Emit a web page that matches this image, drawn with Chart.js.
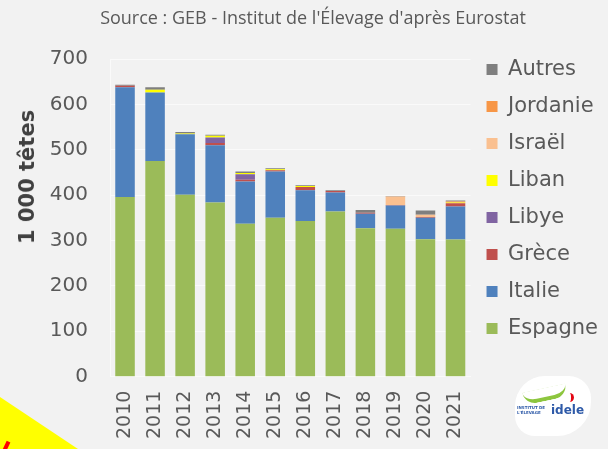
<!DOCTYPE html>
<html>
<head>
<meta charset="utf-8">
<script src="https://cdn.jsdelivr.net/npm/chart.js@4.4.0/dist/chart.umd.min.js"></script>
<style>
    html, body { margin: 0; padding: 0; background: #F2F2F2; }
    #wrap { position: relative; width: 608px; height: 449px; overflow: hidden; }
    #source {
        position: absolute; top: 5px; left: 0; width: 626px;
        text-align: center; font: 18px "Open Sans", sans-serif; color: #595959;
    }
    #ytitle {
        position: absolute; left: 27px; top: 177px;
        transform: translate(-50%, -50%) rotate(-90deg);
        white-space: nowrap;
        font: bold 21px "DejaVu Sans", sans-serif; color: #404040;
    }
    #sticker {
        position: absolute; left: 0; top: 397px; width: 78px; height: 52px;
        background: #FFFF00; clip-path: polygon(0 0, 100% 100%, 0 100%);
    }
    #sticker-mark {
        position: absolute; left: 4px; top: 441px; width: 4px; height: 12px;
        background: #FF0000; transform: rotate(25deg);
    }
    #logo {
        position: absolute; left: 515px; top: 376px; width: 76px; height: 60px;
        background: #FFFFFF; border-radius: 30px 22px 34px 20px;
    }
    #logo .swoosh {
        position: absolute; left: 8px; top: 12px; width: 44px; height: 9px;
        border-bottom: 4px solid #8DC63F; border-radius: 0 0 40px 40px;
        transform: rotate(-12deg);
    }
    #logo .small {
        position: absolute; left: 2px; top: 29px; width: 34px;
        font: bold 4px "DejaVu Sans", sans-serif; color: #2E5AA8; line-height: 5px;
    }
    #logo .name {
        position: absolute; left: 36px; top: 27px;
        font: bold 12px "DejaVu Sans", sans-serif; color: #2E5AA8;
    }
    #logo .dot {
        position: absolute; left: 48px; top: 17px; width: 8px; height: 9px;
        border-right: 3px solid #E30613; border-radius: 0 8px 8px 0;
    }
</style>
</head>
<body>
<div id="wrap">
    <canvas id="chart" width="608" height="449"></canvas>
    <div id="source">Source : GEB - Institut de l'Élevage d'après Eurostat</div>
    <div id="ytitle">1 000 têtes</div>
    <div id="sticker"></div>
    <div id="sticker-mark"></div>
    <div id="logo">
        <div class="swoosh"></div>
        <div class="dot"></div>
        <div class="small">INSTITUT DE L'ÉLEVAGE</div>
        <div class="name">idele</div>
    </div>
</div>
<script>
const years = ["2010", "2011", "2012", "2013", "2014", "2015", "2016", "2017", "2018", "2019", "2020", "2021"];

const espagne  = [396, 475, 401, 384, 337, 350, 343, 364, 327, 326, 303, 302];
const italie   = [242, 151, 133, 126,  93, 102,  68,  42,  32,  51,  47,  73];
const grece    = [  3,   0,   0,   5,   4,   3,   7,   3,   2,   1,   2,   7];
const libye    = [  0,   0,   0,  12,  12,   0,   0,   0,   0,   0,   0,   0];
const liban    = [  0,   6,   2,   4,   3,   2,   2,   0,   0,   0,   0,   2];
const israel   = [  0,   0,   0,   0,   0,   0,   0,   0,   0,  19,   5,   0];
const jordanie = [  0,   0,   0,   0,   0,   0,   0,   0,   0,   0,   0,   2];
const autres   = [  2,   6,   3,   2,   3,   2,   2,   2,   6,   1,   9,   2];

const textColor = "#595959";

const makeSet = (label, data, color) => ({
    label: label,
    data: data,
    backgroundColor: color,
    borderWidth: 0,
    barPercentage: 0.65,
    categoryPercentage: 1,
});

const ctx = document.getElementById("chart").getContext("2d");

const stackChart = new Chart(ctx, {
    type: "bar",
    data: {
        labels: years,
        datasets: [
            makeSet("Espagne", espagne, "#9BBB59"),
            makeSet("Italie", italie, "#4F81BD"),
            makeSet("Grèce", grece, "#C0504D"),
            makeSet("Libye", libye, "#8064A2"),
            makeSet("Liban", liban, "#FFFF00"),
            makeSet("Israël", israel, "#FAC090"),
            makeSet("Jordanie", jordanie, "#F79646"),
            makeSet("Autres", autres, "#7F7F7F"),
        ],
    },
    options: {
        responsive: false,
        animation: false,
        layout: { padding: { top: 43, left: 10, right: 0, bottom: 4 } },
        plugins: {
            tooltip: { enabled: false },
            legend: {
                position: "right",
                align: "start",
                reverse: true,
                labels: {
                    boxWidth: 11,
                    boxHeight: 11,
                    padding: 16,
                    color: textColor,
                    font: { family: "DejaVu Sans", size: 21 },
                },
            },
        },
        scales: {
            x: {
                stacked: true,
                grid: { display: false },
                border: { color: "#FAFAFA" },
                ticks: {
                    minRotation: 90,
                    maxRotation: 90,
                    padding: 6,
                    color: textColor,
                    font: { family: "DejaVu Sans", size: 19 },
                },
            },
            y: {
                stacked: true,
                min: 0,
                max: 700,
                border: { color: "#FAFAFA" },
                grid: { color: "#FAFAFA", drawTicks: false },
                afterFit: (scale) => { scale.width = 100; },
                ticks: {
                    stepSize: 100,
                    autoSkip: false,
                    padding: 22,
                    color: textColor,
                    font: { family: "DejaVu Sans", size: 20, lineHeight: 3.7 },
                },
            },
        },
    },
});
</script>
</body>
</html>
